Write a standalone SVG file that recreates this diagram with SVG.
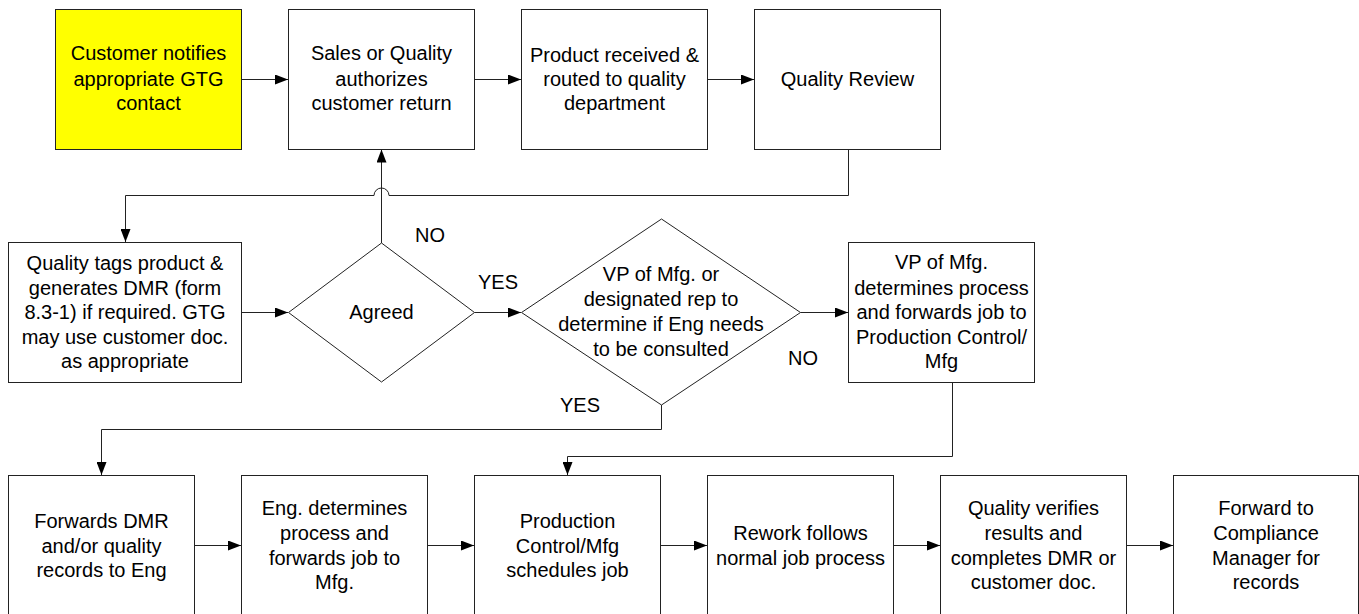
<svg xmlns="http://www.w3.org/2000/svg" width="1359" height="614" viewBox="0 0 1359 614">
<defs>
<marker id="ah" viewBox="0 0 13 10" refX="13" refY="5" markerWidth="13" markerHeight="10" markerUnits="userSpaceOnUse" orient="auto">
<path d="M0,0 L13,5 L0,10 Z" fill="#000"/>
</marker>
</defs>
<style>
.box{fill:#fff;stroke:#222;stroke-width:1}
.yel{fill:#ffff00}
.dia{fill:#fff;stroke:#222;stroke-width:1}
.ln{fill:none;stroke:#222;stroke-width:1}
.arr{marker-end:url(#ah)}
text{font-family:"Liberation Sans",Arial,sans-serif;font-size:20px;fill:#000;text-anchor:middle}
</style>
<rect width="1359" height="614" fill="#fff"/>
<g id="connectors">
<path class="ln arr" d="M241.5,79.5 H288"/>
<path class="ln arr" d="M474.5,79.5 H521"/>
<path class="ln arr" d="M707.5,79.5 H754"/>
<path class="ln arr" d="M848.5,149.5 V195.5 H389 A7.5,7.5 0 0 0 374,195.5 H125.5 V242"/>
<path class="ln arr" d="M381.5,243 V149.5"/>
<path class="ln arr" d="M241.5,312.5 H288"/>
<path class="ln arr" d="M474.5,312.5 H521"/>
<path class="ln arr" d="M800.5,312.5 H848"/>
<path class="ln arr" d="M661.5,405 V429.5 H101.5 V475"/>
<path class="ln arr" d="M952.5,382.5 V456.5 H567.5 V475"/>
<path class="ln arr" d="M194.5,545.5 H241"/>
<path class="ln arr" d="M427.5,545.5 H474"/>
<path class="ln arr" d="M660.5,545.5 H707"/>
<path class="ln arr" d="M893.5,545.5 H940"/>
<path class="ln arr" d="M1126.5,545.5 H1173"/>
<text x="430" y="242">NO</text>
<text x="498" y="289">YES</text>
<text x="803" y="365">NO</text>
<text x="580" y="412">YES</text>
</g>
<g id="n1">
<rect class="box yel" x="55.5" y="9.5" width="186" height="140"/>
<text x="148.5" y="60">Customer notifies</text>
<text x="148.5" y="86">appropriate GTG</text>
<text x="148.5" y="110">contact</text>
</g>
<g id="n2">
<rect class="box" x="288.5" y="9.5" width="186" height="140"/>
<text x="381.5" y="60">Sales or Quality</text>
<text x="381.5" y="86">authorizes</text>
<text x="381.5" y="110">customer return</text>
</g>
<g id="n3">
<rect class="box" x="521.5" y="9.5" width="186" height="140"/>
<text x="614.5" y="62">Product received &amp;</text>
<text x="614.5" y="86">routed to quality</text>
<text x="614.5" y="110">department</text>
</g>
<g id="n4">
<rect class="box" x="754.5" y="9.5" width="186" height="140"/>
<text x="847.5" y="86">Quality Review</text>
</g>
<g id="n5">
<rect class="box" x="8.5" y="242.5" width="233" height="140"/>
<text x="125" y="270">Quality tags product &amp;</text>
<text x="125" y="294.5">generates DMR (form</text>
<text x="125" y="319">8.3-1) if required. GTG</text>
<text x="125" y="343.5">may use customer doc.</text>
<text x="125" y="368">as appropriate</text>
</g>
<g id="n6">
<path class="dia" d="M381.5,243 L474.5,312.5 L381.5,382 L288.5,312.5 Z"/>
<text x="381.5" y="319">Agreed</text>
</g>
<g id="n7">
<path class="dia" d="M661.5,219 L800.5,312.5 L661.5,405 L521.5,312.5 Z"/>
<text x="661" y="281">VP of Mfg. or</text>
<text x="661" y="306">designated rep to</text>
<text x="661" y="331">determine if Eng needs</text>
<text x="661" y="356">to be consulted</text>
</g>
<g id="n8">
<rect class="box" x="848.5" y="242.5" width="186" height="140"/>
<text x="941.5" y="269">VP of Mfg.</text>
<text x="941.5" y="294.5">determines process</text>
<text x="941.5" y="319">and forwards job to</text>
<text x="941.5" y="343.5">Production Control/</text>
<text x="941.5" y="368">Mfg</text>
</g>
<g id="n9">
<rect class="box" x="8.5" y="475.5" width="186" height="140"/>
<text x="101.5" y="528">Forwards DMR</text>
<text x="101.5" y="552.5">and/or quality</text>
<text x="101.5" y="577">records to Eng</text>
</g>
<g id="n10">
<rect class="box" x="241.5" y="475.5" width="186" height="140"/>
<text x="334.5" y="515">Eng. determines</text>
<text x="334.5" y="540">process and</text>
<text x="334.5" y="564.5">forwards job to</text>
<text x="334.5" y="589">Mfg.</text>
</g>
<g id="n11">
<rect class="box" x="474.5" y="475.5" width="186" height="140"/>
<text x="567.5" y="528">Production</text>
<text x="567.5" y="552.5">Control/Mfg</text>
<text x="567.5" y="577">schedules job</text>
</g>
<g id="n12">
<rect class="box" x="707.5" y="475.5" width="186" height="140"/>
<text x="800.5" y="540">Rework follows</text>
<text x="800.5" y="564.5">normal job process</text>
</g>
<g id="n13">
<rect class="box" x="940.5" y="475.5" width="186" height="140"/>
<text x="1033.5" y="515">Quality verifies</text>
<text x="1033.5" y="540">results and</text>
<text x="1033.5" y="564.5">completes DMR or</text>
<text x="1033.5" y="589">customer doc.</text>
</g>
<g id="n14">
<rect class="box" x="1173.5" y="475.5" width="185" height="140"/>
<text x="1266" y="515">Forward to</text>
<text x="1266" y="540">Compliance</text>
<text x="1266" y="564.5">Manager for</text>
<text x="1266" y="589">records</text>
</g>
</svg>
